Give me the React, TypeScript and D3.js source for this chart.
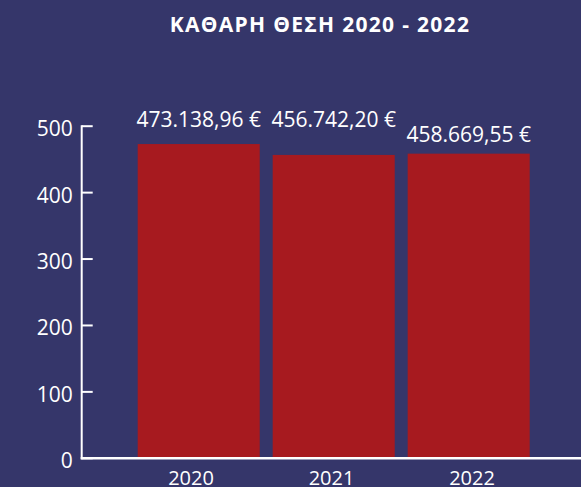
import React from "react";
import * as d3 from "d3";

const categories = ["2020", "2021", "2022"];
const values = [473.13896, 456.7422, 458.66955];
const valueLabels = ["473.138,96 €", "456.742,20 €", "458.669,55 €"];
const yTicks = [0, 100, 200, 300, 400, 500];
const title = "ΚΑΘΑΡΗ ΘΕΣΗ 2020 - 2022";

const W = 581;
const H = 487;
const BG = "#35366a";
const BAR = "#a71a1f";
const FONT = "'Open Sans', 'Noto Sans', sans-serif";
const LABEL_DY = [17, 28, 12];

export default function App() {
  const y = d3.scaleLinear().domain([0, 500]).range([458.3, 126.2]);
  const x = d3
    .scaleBand<string>()
    .domain(categories)
    .range([137.7, 529.7])
    .paddingInner(0.096)
    .paddingOuter(0);
  const xl = d3.scalePoint<string>().domain(categories).range([191, 472]);
  const axisX = 81.7;
  const baseY = y(0);

  return (
    <svg
      width={W}
      height={H}
      style={{ position: "absolute", left: 0, top: 0, display: "block" }}
      fontFamily={FONT}
    >
      <rect x={0} y={0} width={W} height={H} fill={BG} />
      <text
        x={320}
        y={32}
        textAnchor="middle"
        fill="#fff"
        fontWeight="bold"
        fontSize={21}
        letterSpacing={1.3}
      >
        {title}
      </text>
      {categories.map((c, i) => (
        <rect
          key={c}
          x={x(c)}
          y={y(values[i])}
          width={x.bandwidth()}
          height={baseY - 1 - y(values[i])}
          fill={BAR}
        />
      ))}
      {categories.map((c, i) => (
        <text
          key={"v" + c}
          x={(x(c) as number) + x.bandwidth() / 2}
          y={y(values[i]) - LABEL_DY[i]}
          textAnchor="middle"
          fill="#fff"
          fontSize={21}
        >
          {valueLabels[i]}
        </text>
      ))}
      {/* y axis */}
      <line x1={axisX} x2={axisX} y1={y(500) - 1} y2={baseY + 1} stroke="#fff" strokeWidth={2} />
      {yTicks.map((t) => (
        <g key={t}>
          <line x1={axisX} x2={axisX + 11} y1={y(t)} y2={y(t)} stroke="#fff" strokeWidth={2} />
          <text
            x={axisX - 9}
            y={y(t)}
            dy={10}
            textAnchor="end"
            fill="#fff"
            fontSize={21}
          >
            {t}
          </text>
        </g>
      ))}
      {/* x axis */}
      <line x1={axisX - 1} x2={W} y1={baseY} y2={baseY} stroke="#fff" strokeWidth={2.5} />
      {categories.map((c) => (
        <text
          key={"c" + c}
          x={xl(c)}
          y={485}
          textAnchor="middle"
          fill="#fff"
          fontSize={20}
        >
          {c}
        </text>
      ))}
    </svg>
  );
}
